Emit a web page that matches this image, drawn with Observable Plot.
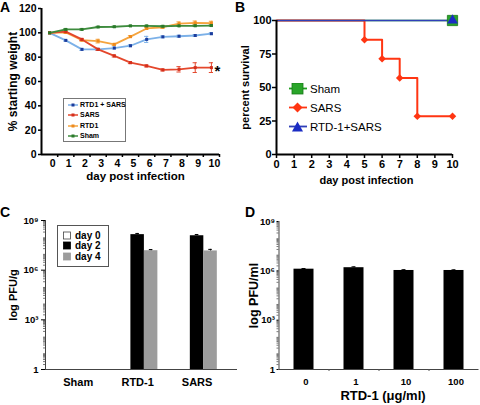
<!DOCTYPE html>
<html><head><meta charset="utf-8">
<script src="https://cdn.jsdelivr.net/npm/d3@7"></script>
<script src="https://cdn.jsdelivr.net/npm/@observablehq/plot@0.6"></script>
<style>
html,body{margin:0;padding:0;background:#fff;}
#fig{position:relative;width:480px;height:405px;overflow:hidden;font-family:"Liberation Sans",Arial,Helvetica,sans-serif;color:#000;}
.panel{position:absolute;}
.letter{position:absolute;font-weight:bold;font-size:14px;line-height:14px;}
.legend{position:absolute;background:#fff;box-sizing:border-box;}
.item{position:absolute;white-space:nowrap;}
</style></head>
<body><div id="fig"></div>
<script>
// ---------- Panel A : weight ----------
const days = [0,1,2,3,4,5,6,7,8,9,10];
const weightSeries = ["RTD1 + SARS","SARS","RTD1","Sham"];
const weightRtdSars = [100,93.8,86.4,86.4,87.5,89.4,94.6,96.7,97.2,97.8,99.3];
const weightSars    = [100,101,94.6,86.4,81,75.5,72.8,69.5,70,71.4,71.4];
const weightRtd     = [100,100.3,94,93.2,90.5,96.9,103.6,104.6,107.5,108.2,108];
const weightSham    = [100,102.8,102.8,104.8,105,105.7,105.7,105.4,105.7,105.8,106];
const errRtdSars = [0,0.6,0.8,0.8,0.8,0.8,2.5,0.8,0.8,0.8,0.8];
const errSars    = [0,0.6,0.8,0.8,0.8,0.8,0.8,0.8,2.2,4,4];
const errRtd     = [0,0.6,0.8,1.5,0.8,0.8,0.8,0.8,1.5,1.5,1.5];
const errSham    = [0,0.5,0.5,0.5,0.5,0.5,0.5,0.5,0.5,0.5,0.5];
const yTicksA = [0,20,40,60,80,100,120];

// ---------- Panel B : survival ----------
const survSeries = ["Sham","SARS","RTD-1+SARS"];
const survDaysSham = [0,10];
const survSham = [100,100];
const survDaysSars = [0,5,6,7,8,10];
const survSars = [100,85.7,71.4,57.1,28.6,28.6];
const survDaysRtd = [0,10];
const survRtd = [100,100];
const yTicksB = [0,25,50,75,100];

// ---------- Panel C : lung titers ----------
const cGroups = ["Sham","RTD-1","SARS"];
const cDayLabels = ["day 0","day 2","day 4"];
const cDay0 = [null,null,null];
const cDay2 = [null,1.4e8,1.2e8];
const cDay4 = [null,1.5e7,1.45e7];
const cErrDay0 = [null,null,null];
const cErrDay2 = [null,2.5e7,2.2e7];
const cErrDay4 = [null,2.5e6,3.5e6];
const logTicks = [1,1e3,1e6,1e9];
const logTickLabels = ["1","10\u00B3","10\u2076","10\u2079"];

// ---------- Panel D : in vitro ----------
const dConc = ["0","1","10","100"];
const dVals = [1.26e6,1.55e6,1.05e6,1.05e6];
const dErr  = [1.2e5,2e5,1.2e5,1e5];

// ================= drawing =================
const FONT = '"Liberation Sans", Arial, Helvetica, sans-serif';
const fig = document.getElementById("fig");
const baseStyle = {fontFamily: FONT, fontWeight: "bold", fontSize: "10px", color: "#000", background: "transparent", overflow: "visible"};
function place(el, left, top) {
  const d = document.createElement("div");
  d.className = "panel"; d.style.left = left + "px"; d.style.top = top + "px";
  d.appendChild(el); fig.appendChild(d);
}
function letter(t, left, top) {
  const d = document.createElement("div");
  d.className = "letter"; d.textContent = t;
  d.style.left = left + "px"; d.style.top = top + "px"; fig.appendChild(d);
}
const minorLog = d3.range(0, 9).flatMap(k => d3.range(2, 10).map(m => m * Math.pow(10, k)));

// ---- A ----
const aValues = {"RTD1 + SARS": weightRtdSars, "SARS": weightSars, "RTD1": weightRtd, "Sham": weightSham};
const aErrs = {"RTD1 + SARS": errRtdSars, "SARS": errSars, "RTD1": errRtd, "Sham": errSham};
const aStyle = {
  "RTD1 + SARS": {line: "#7cb1e8", dot: "#1c3c9c"},
  "SARS": {line: "#e4472c", dot: "#d42f1c"},
  "RTD1": {line: "#f5a43e", dot: "#ee8a1c"},
  "Sham": {line: "#3e8c3e", dot: "#2a7a2a"}
};
const aRows = name => days.map((d, i) => ({day: d, w: aValues[name][i], e: aErrs[name][i]}));
const xDomainA = [-0.5, 10.5];
const yDomainA = [0, 120];
const aMarks = [];
for (const n of ["RTD1 + SARS", "RTD1", "SARS", "Sham"]) {
  const rows = aRows(n), st = aStyle[n];
  const er = rows.filter(r => r.e > 0);
  aMarks.push(
    Plot.ruleX(er, {x: "day", y1: r => r.w - r.e, y2: r => r.w + r.e, stroke: st.line, strokeWidth: 1}),
    Plot.ruleY(er, {y: r => r.w - r.e, x1: r => r.day - 0.13, x2: r => r.day + 0.13, stroke: st.line, strokeWidth: 1}),
    Plot.ruleY(er, {y: r => r.w + r.e, x1: r => r.day - 0.13, x2: r => r.day + 0.13, stroke: st.line, strokeWidth: 1}),
    Plot.line(rows, {x: "day", y: "w", stroke: st.line, strokeWidth: 1.8}),
    Plot.dot(rows, {x: "day", y: "w", r: 1.7, symbol: "square", fill: st.dot})
  );
}
const plotA = Plot.plot({
  width: 240, height: 195, marginLeft: 41, marginRight: 21, marginTop: 8, marginBottom: 41,
  style: baseStyle,
  x: {domain: xDomainA}, y: {domain: yDomainA},
  marks: [
    ...aMarks,
    Plot.text([aRows("SARS")[days.length - 1]], {x: "day", y: "w", text: () => "*", dx: 6, dy: 4, fontSize: 15, fontWeight: "bold"}),
    Plot.ruleX([xDomainA[0]], {stroke: "#000", strokeWidth: 2}),
    Plot.ruleY([yDomainA[0]], {stroke: "#000", strokeWidth: 2}),
    Plot.axisY({ticks: yTicksA, tickSize: 3, tickPadding: 2, strokeWidth: 1.5, fontSize: 10.5, label: null}),
    Plot.axisX({ticks: days, tickSize: 0, tickPadding: 5, dx: 3, fontSize: 10.5, label: null}),
    Plot.axisX({ticks: days.map(d => d + 0.5), tickSize: 3, strokeWidth: 1.5, tickFormat: () => "", label: null}),
    Plot.text(["day post infection"], {text: d => d, frameAnchor: "bottom", textAnchor: "middle", dy: 25, dx: 5, fontSize: 11.5, fontWeight: "bold"}),
    Plot.text(["% starting weight"], {text: d => d, frameAnchor: "left", textAnchor: "middle", dx: -28, rotate: -90, fontSize: 12, fontWeight: "bold"})
  ]
});
place(plotA, 0, 0);
// legend A
{
  const box = document.createElement("div");
  box.className = "legend";
  Object.assign(box.style, {left: "63px", top: "98px", width: "63px", height: "44px", border: "1px solid #777"});
  weightSeries.forEach((n, i) => {
    const it = document.createElement("div");
    it.className = "item";
    Object.assign(it.style, {left: "4px", top: (1 + i * 10.3) + "px", height: "10px", fontSize: "7px", fontWeight: "bold", lineHeight: "10px"});
    it.innerHTML = `<svg width="10" height="10" style="vertical-align:top"><line x1="0" x2="10" y1="5" y2="5" stroke="${aStyle[n].line}" stroke-width="1.5"/><rect x="3.5" y="3.5" width="3" height="3" fill="${aStyle[n].dot}"/></svg><span style="margin-left:2px">${n}</span>`;
    box.appendChild(it);
  });
  fig.appendChild(box);
}

// ---- B ----
const bColors = {"Sham": "#1f9e1f", "SARS": "#ff3512", "RTD-1+SARS": "#2f3fb8"};
const bRows = (ds, vs) => ds.map((d, i) => ({day: d, s: vs[i]}));
const shamRows = bRows(survDaysSham, survSham);
const sarsRows = bRows(survDaysSars, survSars);
const rtdRows = bRows(survDaysRtd, survRtd);
const xDomainB = [0, 10];
const yDomainB = [0, 100];
const plotB = Plot.plot({
  width: 240, height: 195, marginLeft: 36, marginRight: 28, marginTop: 20, marginBottom: 41,
  style: baseStyle,
  x: {domain: xDomainB}, y: {domain: yDomainB},
  marks: [
    Plot.line(shamRows, {x: "day", y: "s", curve: "step-after", stroke: bColors["Sham"], strokeWidth: 1.5}),
    Plot.line(sarsRows, {x: "day", y: "s", curve: "step-after", stroke: bColors["SARS"], strokeWidth: 2}),
    Plot.line(rtdRows, {x: "day", y: "s", curve: "step-after", stroke: bColors["RTD-1+SARS"], strokeWidth: 1.5}),
    Plot.ruleX([xDomainB[0]], {stroke: "#000", strokeWidth: 2}),
    Plot.ruleY([yDomainB[0]], {stroke: "#000", strokeWidth: 2}),
    Plot.dot(sarsRows.filter((r, i) => i > 0), {x: "day", y: "s", symbol: "diamond2", r: 3.4, fill: bColors["SARS"]}),
    Plot.dot(shamRows.filter((r, i) => i > 0), {x: "day", y: "s", symbol: "square", r: 5.8, fill: "#2aa52a", stroke: "#187818", strokeWidth: 0.8}),
    Plot.dot(rtdRows.filter((r, i) => i > 0), {x: "day", y: "s", symbol: "triangle", r: 4, fill: "#1a2cc4"}),
    Plot.axisY({ticks: yTicksB, tickSize: 4, tickPadding: 1, strokeWidth: 1.5, fontSize: 11, label: null}),
    Plot.axisX({ticks: days, tickSize: 4, tickPadding: 2, strokeWidth: 1.5, fontSize: 11, label: null}),
    Plot.text(["day post infection"], {text: d => d, frameAnchor: "bottom", textAnchor: "middle", dy: 29, dx: 2, fontSize: 11, fontWeight: "bold"}),
    Plot.text(["percent survival"], {text: d => d, frameAnchor: "left", textAnchor: "middle", dx: -31, rotate: -90, fontSize: 11, fontWeight: "bold"})
  ]
});
place(plotB, 240, 0);
// legend B
{
  const box = document.createElement("div");
  box.className = "legend";
  Object.assign(box.style, {left: "288px", top: "80px", width: "90px", height: "56px", background: "transparent"});
  const sym = {
    "Sham": c => `<rect x="4" y="0" width="11" height="11" fill="#2aa52a" stroke="#187818" stroke-width="0.8"/>`,
    "SARS": c => `<polygon points="9.5,0.5 14.5,5.5 9.5,10.5 4.5,5.5" fill="${c}"/>`,
    "RTD-1+SARS": c => `<polygon points="9.5,0.5 15,10.5 4,10.5" fill="#1a2cc4"/>`
  };
  survSeries.forEach((n, i) => {
    const it = document.createElement("div");
    it.className = "item";
    Object.assign(it.style, {left: "0px", top: (3 + [0, 18.5, 37.5][i]) + "px", height: "12px", fontSize: "11.5px", lineHeight: "12px"});
    it.innerHTML = `<svg width="20" height="12" style="vertical-align:top"><line x1="1" x2="19" y1="5.5" y2="5.5" stroke="${bColors[n]}" stroke-width="1.8"/>${sym[n](bColors[n])}</svg><span style="margin-left:2px">${n}</span>`;
    box.appendChild(it);
  });
  fig.appendChild(box);
}

// ---- C ----
const cFills = ["#ffffff", "#000000", "#9c9c9c"];
const cDayVals = [cDay0, cDay2, cDay4];
const cDayErrs = [cErrDay0, cErrDay2, cErrDay4];
const BW = 0.227;
const cRows = cGroups.flatMap((g, gi) => cDayVals.map((arr, di) => ({gi, di, v: arr[gi], e: cDayErrs[di][gi]})))
  .filter(r => r.v != null);
const xDomainC = [-0.55, 2.68];
const yDomainC = [1, 1e9];
const cMarks = [];
cDayVals.forEach((arr, di) => {
  const rows = cRows.filter(r => r.di === di);
  cMarks.push(
    Plot.rect(rows, {x1: r => r.gi + (r.di - 1.5) * BW, x2: r => r.gi + (r.di - 0.5) * BW, y1: yDomainC[0], y2: "v", fill: cFills[di], stroke: di === 0 ? "#000" : "none"}),
    Plot.ruleX(rows, {x: r => r.gi + (r.di - 1) * BW, y1: "v", y2: r => r.v + r.e, stroke: "#000", strokeWidth: 1}),
    Plot.ruleY(rows, {y: r => r.v + r.e, x1: r => r.gi + (r.di - 1) * BW - 0.03, x2: r => r.gi + (r.di - 1) * BW + 0.03, stroke: "#000", strokeWidth: 1})
  );
});
const plotC = Plot.plot({
  width: 240, height: 205, marginLeft: 45, marginRight: 3, marginTop: 20, marginBottom: 36,
  style: baseStyle,
  x: {domain: xDomainC}, y: {type: "log", domain: yDomainC},
  marks: [
    ...cMarks,
    Plot.ruleX([xDomainC[0]], {stroke: "#444", strokeWidth: 1}),
    Plot.ruleY([yDomainC[0]], {stroke: "#444", strokeWidth: 1}),
    Plot.axisY({ticks: minorLog, tickSize: 2, stroke: "#555", strokeWidth: 0.8, tickFormat: () => "", label: null}),
    Plot.axisY({ticks: logTicks, tickSize: 4, tickPadding: 3, tickFormat: d => logTickLabels[logTicks.indexOf(d)], fontSize: 9.5, label: null}),
    Plot.axisX({ticks: [0, 1, 2], tickSize: 0, tickPadding: 9, tickFormat: i => cGroups[i], fontSize: 11, label: null}),
    Plot.text(["log PFU/g"], {text: d => d, frameAnchor: "left", textAnchor: "middle", dx: -32, rotate: -90, fontSize: 11, fontWeight: "bold"})
  ]
});
place(plotC, 0, 200);
// legend C
{
  const box = document.createElement("div");
  box.className = "legend";
  Object.assign(box.style, {left: "57px", top: "225px", width: "52px", height: "42px", border: "1px solid #555"});
  cDayLabels.forEach((n, i) => {
    const it = document.createElement("div");
    it.className = "item";
    Object.assign(it.style, {left: "5px", top: (4 + i * 10.3) + "px", height: "11px", fontSize: "10px", fontWeight: "bold", lineHeight: "11px"});
    it.innerHTML = `<svg width="9" height="11" style="vertical-align:top"><rect x="0.5" y="2" width="7" height="7" fill="${cFills[i]}" stroke="${i === 0 ? '#444' : cFills[i]}" stroke-width="0.8"/></svg><span style="margin-left:3px">${n}</span>`;
    box.appendChild(it);
  });
  fig.appendChild(box);
}

// ---- D ----
const dRows = dConc.map((c, i) => ({i, v: dVals[i], e: dErr[i]}));
const xDomainD = [-0.5, 3.5];
const yDomainD = [1, 1e9];
const plotD = Plot.plot({
  width: 240, height: 205, marginLeft: 38.5, marginRight: 1.5, marginTop: 21, marginBottom: 36,
  style: baseStyle,
  x: {domain: xDomainD}, y: {type: "log", domain: yDomainD},
  marks: [
    Plot.rect(dRows, {x1: r => r.i - 0.2, x2: r => r.i + 0.2, y1: yDomainD[0], y2: "v", fill: "#000"}),
    Plot.ruleX(dRows, {x: "i", y1: "v", y2: r => r.v + r.e, stroke: "#000"}),
    Plot.ruleY(dRows, {y: r => r.v + r.e, x1: r => r.i - 0.04, x2: r => r.i + 0.04, stroke: "#000"}),
    Plot.ruleX([xDomainD[0]], {stroke: "#444", strokeWidth: 1}),
    Plot.ruleY([yDomainD[0]], {stroke: "#444", strokeWidth: 1}),
    Plot.axisY({ticks: minorLog, tickSize: 2, stroke: "#555", strokeWidth: 0.8, tickFormat: () => "", label: null}),
    Plot.axisY({ticks: logTicks, tickSize: 2, tickPadding: 2, tickFormat: d => logTickLabels[logTicks.indexOf(d)], fontSize: 9.5, label: null}),
    Plot.axisX({ticks: [0.5, 1.5, 2.5], tickSize: 2, stroke: "#555", tickFormat: () => "", label: null}),
    Plot.axisX({ticks: [0, 1, 2, 3], tickSize: 0, tickPadding: 9, tickFormat: i => dConc[i], fontSize: 9.5, dx: 2, label: null}),
    Plot.text(["RTD-1 (\u03BCg/ml)"], {text: d => d, frameAnchor: "bottom", textAnchor: "middle", dy: 30, dx: 4, fontSize: 13, fontWeight: "bold"}),
    Plot.text(["log PFU/ml"], {text: d => d, frameAnchor: "left", textAnchor: "middle", dx: -25, rotate: -90, fontSize: 12.5, fontWeight: "bold"})
  ]
});
place(plotD, 240, 200);

letter("A", 0, 0);
letter("B", 235, 0);
letter("C", 0, 205);
letter("D", 245, 205);
</script></body></html>
